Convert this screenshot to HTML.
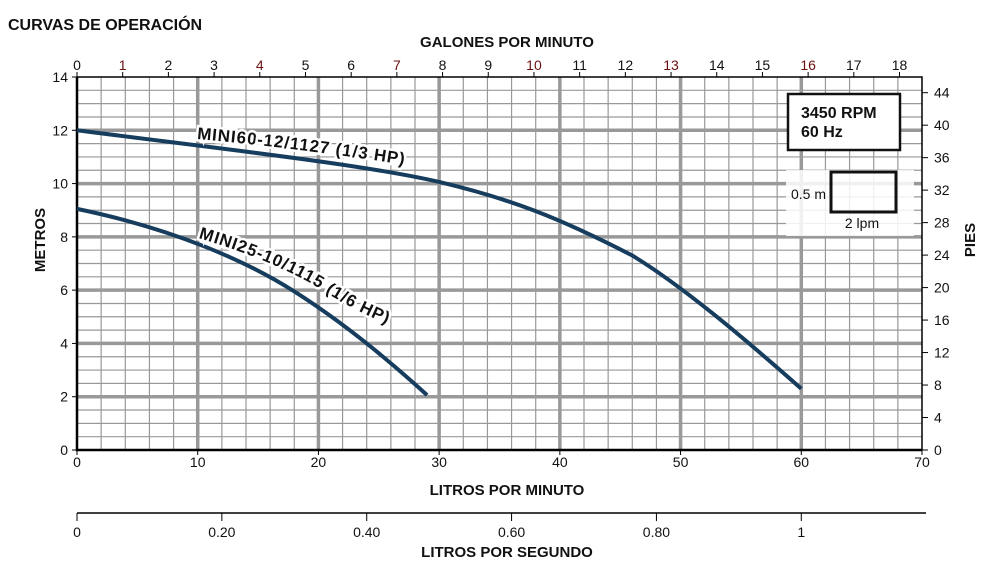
<!DOCTYPE html>
<html><head><meta charset="utf-8"><style>
body{margin:0;background:#fff;width:988px;height:567px;overflow:hidden}
text{font-family:"Liberation Sans",Arial,sans-serif;fill:#111}
</style></head><body>
<svg id="s" width="988" height="567" xmlns="http://www.w3.org/2000/svg">
<text x="8" y="30" font-size="16" font-weight="bold">CURVAS DE OPERACIÓN</text>
<text x="507" y="47" font-size="15" font-weight="bold" text-anchor="middle">GALONES POR MINUTO</text>
<text x="507" y="495" font-size="15" font-weight="bold" text-anchor="middle">LITROS POR MINUTO</text>
<text x="507" y="557" font-size="15" font-weight="bold" text-anchor="middle">LITROS POR SEGUNDO</text>
<text transform="translate(45,240) rotate(-90)" font-size="15" font-weight="bold" text-anchor="middle">METROS</text>
<text transform="translate(975,240) rotate(-90)" font-size="15" font-weight="bold" text-anchor="middle">PIES</text>
<g id="g"></g>
</svg>
<script>
const g=document.getElementById('g');const NS="http://www.w3.org/2000/svg";
function el(t,a,txt){const e=document.createElementNS(NS,t);for(const k in a)e.setAttribute(k,a[k]);if(txt!==undefined)e.textContent=txt;g.appendChild(e);return e;}
const X0=77,X1=922,Y0=450,Y1=77,px=(X1-X0)/70,py=(Y0-Y1)/14;
const X=l=>X0+l*px, Y=m=>Y0-m*py;
for(let l=2;l<70;l+=2){if(l%10)el('line',{x1:X(l),y1:Y1,x2:X(l),y2:Y0,stroke:'#999','stroke-width':1.2});}
for(let m=0.5;m<14;m+=0.5){if(m%2)el('line',{x1:X0,y1:Y(m),x2:X1,y2:Y(m),stroke:'#999','stroke-width':1.2});}
for(let l=10;l<70;l+=10)el('line',{x1:X(l),y1:Y1,x2:X(l),y2:Y0,stroke:'#999','stroke-width':3.5});
for(let m=2;m<14;m+=2)el('line',{x1:X0,y1:Y(m),x2:X1,y2:Y(m),stroke:'#999','stroke-width':3.5});
el('rect',{x:786,y:170,width:128,height:66,fill:'#fff',opacity:0.85});
el('rect',{x:831,y:172,width:65,height:40,fill:'none',stroke:'#111','stroke-width':3});
el('text',{x:826,y:199,'font-size':14,'text-anchor':'end'},'0.5 m');
el('text',{x:862,y:228,'font-size':14,'text-anchor':'middle'},'2 lpm');
el('rect',{x:788,y:94,width:112,height:56,fill:'#fff',stroke:'#111','stroke-width':2.5});
el('text',{x:801,y:118,'font-size':16,'font-weight':'bold'},'3450 RPM');
el('text',{x:801,y:137,'font-size':16,'font-weight':'bold'},'60 Hz');
el('path',{d:`M${X0},${Y1}V${Y0}H${X1}`,fill:'none',stroke:'#000','stroke-width':2.5});
el('path',{d:`M${X0},${Y1}H${X1}V${Y0}`,fill:'none',stroke:'#000','stroke-width':1.5});
for(let m=0;m<=14;m+=2){el('line',{x1:X0-5,y1:Y(m),x2:X0,y2:Y(m),stroke:'#000'});el('text',{x:X0-9,y:Y(m)+5,'font-size':14,'text-anchor':'end'},m);}
for(let l=0;l<=70;l+=10){el('line',{x1:X(l),y1:Y0,x2:X(l),y2:Y0+5,stroke:'#000'});el('text',{x:X(l),y:Y0+17,'font-size':14,'text-anchor':'middle'},l);}
for(let gal=0;gal<=18;gal++){const x=X(gal*3.7854);el('line',{x1:x,y1:Y1-5,x2:x,y2:Y1,stroke:'#000'});el('text',{x:x,y:Y1-7,'font-size':14,'text-anchor':'middle',style:(gal%3==1?'fill:#6a1010':'')},gal);}
for(let f=0;f<=44;f+=4){const y=Y(f*0.3048);el('line',{x1:X1,y1:y,x2:X1+6,y2:y,stroke:'#000'});el('text',{x:X1+12,y:y+5,'font-size':14},f);}
el('line',{x1:X0,y1:513,x2:926,y2:513,stroke:'#000','stroke-width':1.5});
['0','0.20','0.40','0.60','0.80','1'].forEach((t,i)=>{const x=X(i*12);el('line',{x1:x,y1:513,x2:x,y2:521,stroke:'#000'});el('text',{x:x,y:537,'font-size':14,'text-anchor':'middle'},t);});
el('path',{d:`M${X(0)},${Y(12)} C${X(12)},${Y(11.3)} ${X(24)},${Y(10.7)} ${X(30)},${Y(10.06)} S${X(40)},${Y(8.7)} ${X(46)},${Y(7.3)} C${X(50)},${Y(6.2)} ${X(55)},${Y(4.3)} ${X(60)},${Y(2.3)}`,fill:'none',stroke:'#173d5e','stroke-width':4});
el('path',{d:`M${X(0)},${Y(9.05)} C${X(8)},${Y(8.3)} ${X(14)},${Y(7.1)} ${X(18)},${Y(5.95)} S${X(26)},${Y(3.3)} ${X(29)},${Y(2.06)}`,fill:'none',stroke:'#173d5e','stroke-width':4});
const d=el('defs',{});
const p1=document.createElementNS(NS,'path');p1.setAttribute('id','p1');p1.setAttribute('d','M197,139 Q300,148 425,168');d.appendChild(p1);
const p2=document.createElementNS(NS,'path');p2.setAttribute('id','p2');p2.setAttribute('d','M198,238 Q280,262 330,295 Q375,322 420,336');d.appendChild(p2);
[['p1','MINI60-12/1127 (1/3 HP)'],['p2','MINI25-10/1115 (1/6 HP)']].forEach(([id,t])=>{
 const tx=el('text',{'font-size':17,'font-weight':'bold','letter-spacing':'0.9',stroke:'#fff','stroke-width':5,'paint-order':'stroke'});
 const tp=document.createElementNS(NS,'textPath');tp.setAttribute('href','#'+id);tp.textContent=t;tx.appendChild(tp);
});
</script>
</body></html>
